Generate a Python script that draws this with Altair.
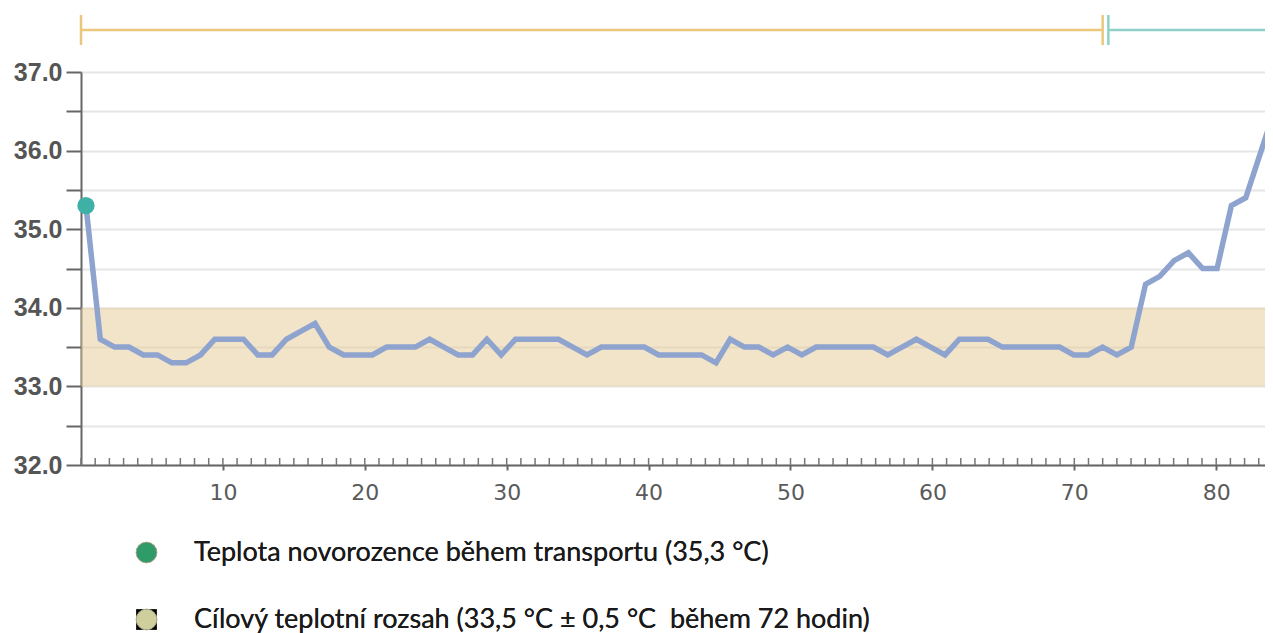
import altair as alt
import pandas as pd

# Hourly temperature readings (°C)
temps = [35.3, 33.6, 33.5, 33.5, 33.4, 33.4, 33.3, 33.3, 33.4, 33.6,
         33.6, 33.6, 33.4, 33.4, 33.6, 33.7, 33.8, 33.5, 33.4, 33.4,
         33.4, 33.5, 33.5, 33.5, 33.6, 33.5, 33.4, 33.4, 33.6, 33.4,
         33.6, 33.6, 33.6, 33.6, 33.5, 33.4, 33.5, 33.5, 33.5, 33.5,
         33.4, 33.4, 33.4, 33.4, 33.3, 33.6, 33.5, 33.5, 33.4, 33.5,
         33.4, 33.5, 33.5, 33.5, 33.5, 33.5, 33.4, 33.5, 33.6, 33.5,
         33.4, 33.6, 33.6, 33.6, 33.5, 33.5, 33.5, 33.5, 33.5, 33.4,
         33.4, 33.5, 33.4, 33.5, 34.3, 34.4, 34.6, 34.7, 34.5, 34.5,
         35.3, 35.4, 36.4]
hours = [round(0.35 + 1.009 * i, 2) for i in range(len(temps) - 1)] + [83.9]

# Transport temperature point
transport_hour = [0.35]
transport_temp = [35.3]

# Target range band
band_start = [0]
band_end = [84]
band_low = [33.0]
band_high = [34.0]

# Phase bars on top
phase_names = ["chlazení", "ohřev"]
phase_start = [0, 72.4]
phase_end = [72, 84]
phase_colors = ["#ebc77c", "#8fd1c9"]
tick_pos = [0, 72, 72.4]
tick_phase = ["chlazení", "chlazení", "ohřev"]

# Minor x ticks (every hour)
minor_ticks = list(range(0, 84))

legend_labels = ["Teplota novorozence během transportu (35,3 °C)",
                 "Cílový teplotní rozsah (33,5 °C ± 0,5 °C\u00a0 během 72 hodin)"]
legend_colors = ["#2f9b69", "#cfcf9e"]
legend_shapes = ["circle", "square"]

W, H = 1184, 393
X_MAX = W / 14.19

xscale = alt.Scale(domain=[0, X_MAX], nice=False, zero=False)
yscale = alt.Scale(domain=[32, 37], nice=False, zero=False)

line_df = pd.DataFrame({"h": hours, "t": temps})
pt_df = pd.DataFrame({"h": transport_hour, "t": transport_temp})
band_df = pd.DataFrame({"x0": band_start, "x1": band_end, "lo": band_low, "hi": band_high})
phase_df = pd.DataFrame({"s": phase_start, "e": phase_end, "phase": phase_names})
tick_df = pd.DataFrame({"x": tick_pos, "phase": tick_phase})
minor_df = pd.DataFrame({"x": minor_ticks})
leg_df = pd.DataFrame({"label": legend_labels, "h": [10, 20], "t": [33.5, 33.5]})

bottom_axis = alt.Axis(values=list(range(10, 90, 10)), title=None, grid=False,
                       labelFont="DejaVu Sans", labelFontSize=22, labelColor="#5a5a5a",
                       labelPadding=12, tickSize=5, tickWidth=2, tickColor="#666666",
                       domainColor="#666666", domainWidth=2)
y_axis = alt.Axis(values=[32 + 0.5 * k for k in range(11)], title=None,
                  labelExpr="datum.value % 1 === 0 ? format(datum.value, '.1f') : ''",
                  labelFont="Liberation Sans", labelFontSize=25, labelFontWeight="bold",
                  labelColor="#555555", labelPadding=4, tickSize=15, tickWidth=2,
                  tickColor="#666666", domainColor="#666666", domainWidth=2,
                  gridColor="#e6e6e6", gridWidth=2)

phase_color = alt.Color("phase:N", scale=alt.Scale(domain=phase_names, range=phase_colors), legend=None)

band = alt.Chart(band_df).mark_rect(color="#e5c993", opacity=0.5, clip=True).encode(
    x=alt.X("x0:Q", scale=xscale, axis=bottom_axis), x2="x1",
    y=alt.Y("lo:Q", scale=yscale, axis=y_axis), y2="hi")

minor = alt.Chart(minor_df).mark_rule(color="#777777", strokeWidth=1.5).encode(
    x=alt.X("x:Q", scale=xscale, axis=None),
    y=alt.value(H - 7), y2=alt.value(H))

line = alt.Chart(line_df).mark_line(color="#8fa3cf", strokeWidth=5.5, clip=True).encode(
    x=alt.X("h:Q", scale=xscale, axis=None),
    y=alt.Y("t:Q", scale=yscale, axis=None))

point = alt.Chart(pt_df).mark_circle(color="#3fb0a6", opacity=1, size=300).encode(
    x=alt.X("h:Q", scale=xscale, axis=None),
    y=alt.Y("t:Q", scale=yscale, axis=None))

phase_bars = alt.Chart(phase_df).mark_rule(strokeWidth=2.5).encode(
    x=alt.X("s:Q", scale=xscale, axis=None), x2="e",
    y=alt.value(-42), color=phase_color)

phase_ticks = alt.Chart(tick_df).mark_rule(strokeWidth=2.5).encode(
    x=alt.X("x:Q", scale=xscale, axis=None),
    y=alt.value(-57), y2=alt.value(-27), color=phase_color)

leg_common = dict(title=None, orient="none", legendX=52, legendY=467, direction="vertical",
                  labelFont="Lato", labelFontSize=27, labelColor="#1a1a1a", labelLimit=900,
                  symbolSize=430, symbolOpacity=1, symbolStrokeWidth=1,
                  symbolStrokeColor="#a9a98a", rowPadding=39, labelOffset=34, padding=0)

legend_layer = alt.Chart(leg_df).mark_point(filled=True, opacity=0).encode(
    x=alt.X("h:Q", scale=xscale, axis=None),
    y=alt.Y("t:Q", scale=yscale, axis=None),
    color=alt.Color("label:N", scale=alt.Scale(domain=legend_labels, range=legend_colors),
                    legend=alt.Legend(**leg_common)),
    shape=alt.Shape("label:N", scale=alt.Scale(domain=legend_labels, range=legend_shapes),
                    legend=alt.Legend(**leg_common)))

chart = alt.layer(band, minor, line, point, phase_bars, phase_ticks, legend_layer).resolve_axis(
    x="independent", y="independent").resolve_scale(color="independent").properties(
    width=W, height=H,
    autosize=alt.AutoSizeParams(type="none"),
    padding={"left": 73, "top": 64, "right": 0, "bottom": 168},
).configure_view(stroke=None)

chart.save("out.html", embed_options={"renderer": "svg", "actions": False})
